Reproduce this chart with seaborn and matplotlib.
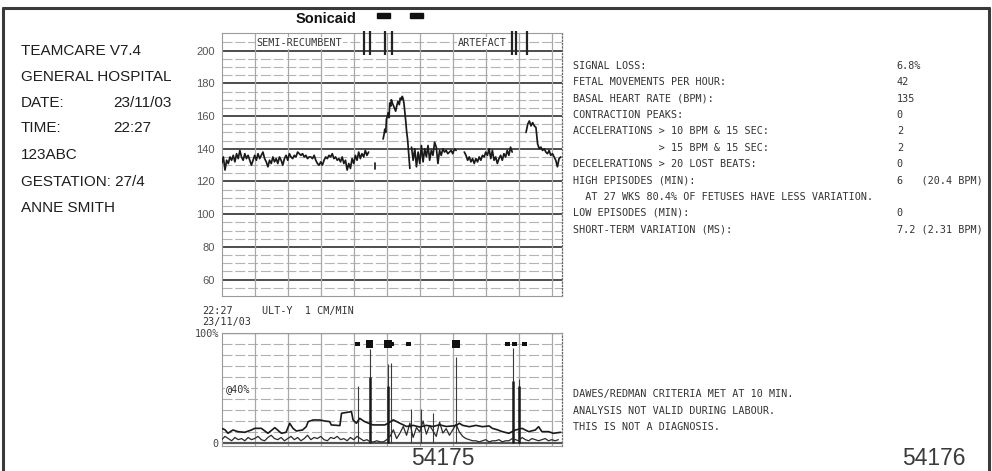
import numpy as np
import pandas as pd
import matplotlib
matplotlib.use("Agg")
import matplotlib.pyplot as plt
import seaborn as sns
from matplotlib.lines import Line2D
from matplotlib.patches import Rectangle

sns.set_theme(style="white")
plt.rcParams['font.family'] = ['DejaVu Sans']

# ---------------- data ----------------
# fetal heart rate (bpm), time in minutes, segments separated by signal loss
hr1_start, hr1_step = 0.0, 0.05
hr1_bpm = [131, 135, 127, 133, 131, 135, 133, 136, 132, 137,
           134, 139, 135, 133, 137, 134, 136, 133, 130, 133,
           136, 133, 137, 134, 136, 138, 134, 132, 129, 133,
           131, 135, 132, 134, 131, 135, 133, 130, 134, 136,
           133, 137, 135, 134, 136, 135, 138, 137, 136, 137,
           135, 136, 134, 135, 135, 134, 136, 133, 131, 130,
           132, 130, 133, 135, 134, 136, 135, 137, 134, 135,
           133, 134, 132, 135, 131, 133, 127, 131, 128, 134,
           131, 136, 133, 138, 134, 137, 135, 139, 136, 138]
hr_tick_t = [4.64, 4.64]
hr_tick_bpm = [127.5, 131.5]
hr2_t = [4.89, 4.92, 4.94, 4.97, 4.99, 5.02, 5.04, 5.07, 5.09, 5.12,
         5.14, 5.17, 5.19, 5.23, 5.27, 5.30, 5.34, 5.38, 5.41, 5.44,
         5.47, 5.49, 5.52, 5.55, 5.58, 5.60, 5.63, 5.65, 5.68, 5.70]
hr2_bpm = [146, 149, 152, 150, 158, 160, 162, 159, 168, 166,
           170, 168, 167, 165, 163, 166, 169, 167, 171, 170,
           172, 171, 168, 162, 156, 151, 146, 141, 133, 128]
hr3_start, hr3_step = 5.75, 0.05
hr3_bpm = [141, 133, 140, 129, 138, 131, 142, 132, 140, 135,
           142, 133, 139, 136, 144, 141, 131, 139, 136, 140,
           138, 139, 137, 138, 139, 137, 140, 139]
hr4_start, hr4_step = 7.35, 0.05
hr4_bpm = [138, 136, 133, 135, 132, 134, 131, 134, 132, 135,
           133, 136, 135, 138, 136, 140, 134, 139, 133, 135,
           131, 134, 136, 133, 137, 135, 139, 136, 141, 138]
hr5_start, hr5_step = 9.22, 0.05
hr5_bpm = [150, 155, 157, 154, 156, 154, 153, 143, 140, 141,
           139, 140, 138, 137, 139, 136, 137, 135, 133, 129,
           134, 135]

# event marks on the heart-rate strip
event_t = [4.31, 4.48, 4.96, 5.16, 8.80, 8.93, 9.26]

# contraction (toco) trace, %
toco_t = [0.00, 0.10, 0.19, 0.34, 0.49, 0.70, 0.90, 1.00, 1.20, 1.40,
          1.61, 1.81, 1.95, 2.06, 2.16, 2.26, 2.45, 2.56, 2.62, 2.77,
          2.97, 3.12, 3.27, 3.32, 3.58, 3.63, 3.93, 3.98, 4.08, 4.18,
          4.33, 4.58, 4.94, 5.04, 5.20, 5.40, 5.60, 5.80, 6.00, 6.20,
          6.40, 6.60, 6.80, 7.00, 7.11, 7.20, 7.30, 7.50, 7.70, 7.90,
          8.10, 8.20, 8.35, 8.50, 8.70, 8.90, 9.10, 9.30, 9.50, 9.60,
          9.70, 9.90, 10.05, 10.27]
toco_pct = [13.3, 12.0, 8.8, 11.8, 10.3, 9.7, 11.8, 13.3, 13.3, 8.8,
            13.9, 8.8, 9.7, 17.9, 13.3, 10.9, 11.8, 14.8, 19.4, 20.9,
            20.9, 20.0, 19.4, 16.4, 15.8, 27.0, 28.5, 20.9, 17.9, 22.4,
            19.4, 16.4, 16.4, 17.9, 21.0, 17.9, 15.0, 16.0, 14.5, 16.0,
            15.0, 16.5, 15.0, 15.5, 16.0, 17.9, 16.0, 14.8, 16.0, 14.8,
            15.5, 13.3, 12.0, 10.3, 8.8, 11.8, 13.3, 10.3, 11.8, 14.8,
            10.3, 10.3, 8.8, 9.7]

# fetal movement / activity trace, %
act_start, act_step = 0.0, 0.1
act_pct = [3, 6, 4, 2, 5, 3, 4, 2, 5, 3,
           4, 6, 3, 2, 5, 7, 4, 3, 5, 2,
           4, 6, 3, 5, 2, 4, 7, 3, 5, 4,
           6, 3, 2, 5, 4, 6, 3, 4, 2, 5,
           3, 6, 4, 2, 3,
           1, 1, 2, 1, 1, 3,
           6, 12, 4, 9, 15, 7, 18, 5, 14, 10, 20, 8, 16, 11, 6, 19, 9, 13, 7, 12, 17,
           10, 6, 4, 3, 2,
           2, 1, 2, 3, 1, 2, 2, 3, 1, 2,
           2, 4, 3, 2, 5, 3, 2, 4, 3, 2,
           3, 4, 2, 3, 2, 3]

# activity spikes
spike_t = [4.12, 4.48, 5.04, 5.14, 5.74, 6.05, 6.40, 7.11, 8.81, 9.01]
spike_top = [52, 85, 72, 73, 31, 31, 27, 78, 86, 58]
thick_t = [4.48, 5.04, 8.81, 9.01]
thick_top = [60, 52, 56, 52]

# movement markers
move_t = [4.11, 4.48, 5.03, 5.15, 5.67, 7.09, 8.67, 8.88, 9.18]
move_big = [0, 1, 1, 0, 0, 1, 0, 0, 0]

hr_ticks = [60, 80, 100, 120, 140, 160, 180, 200]

info_left = ["TEAMCARE V7.4", "GENERAL HOSPITAL", "DATE:", "TIME:",
             "123ABC", "GESTATION: 27/4", "ANNE SMITH"]
info_left_vals = ["", "", "23/11/03", "22:27", "", "", ""]

stat_labels = ["SIGNAL LOSS:", "FETAL MOVEMENTS PER HOUR:", "BASAL HEART RATE (BPM):",
               "CONTRACTION PEAKS:", "ACCELERATIONS > 10 BPM & 15 SEC:",
               "              > 15 BPM & 15 SEC:", "DECELERATIONS > 20 LOST BEATS:",
               "HIGH EPISODES (MIN):", "  AT 27 WKS 80.4% OF FETUSES HAVE LESS VARIATION.",
               "LOW EPISODES (MIN):", "SHORT-TERM VARIATION (MS):"]
stat_values = ["6.8%", "42", "135", "0", "2", "2", "0", "6   (20.4 BPM)", "", "0",
               "7.2 (2.31 BPM)"]
notes = ["DAWES/REDMAN CRITERIA MET AT 10 MIN.", "ANALYSIS NOT VALID DURING LABOUR.",
         "THIS IS NOT A DIAGNOSIS."]

# ---------------- build tables ----------------
def seg_frame(t, v, s):
    return pd.DataFrame({"t": t, "bpm": v, "seg": s})

def reg_t(start, step, n):
    return [round(start + i * step, 3) for i in range(n)]

hr = pd.concat([
    seg_frame(reg_t(hr1_start, hr1_step, len(hr1_bpm)), hr1_bpm, 1),
    seg_frame(hr_tick_t, hr_tick_bpm, 2),
    seg_frame(hr2_t, hr2_bpm, 3),
    seg_frame(reg_t(hr3_start, hr3_step, len(hr3_bpm)), hr3_bpm, 4),
    seg_frame(reg_t(hr4_start, hr4_step, len(hr4_bpm)), hr4_bpm, 5),
    seg_frame(reg_t(hr5_start, hr5_step, len(hr5_bpm)), hr5_bpm, 6),
], ignore_index=True)
toco = pd.DataFrame({"t": toco_t, "pct": toco_pct})
act = pd.DataFrame({"t": reg_t(act_start, act_step, len(act_pct)), "pct": act_pct})

# ---------------- figure ----------------
W, H = 992, 471
fig = plt.figure(figsize=(W / 100, H / 100), dpi=100)
fig.patch.set_facecolor("white")

def fx(px):
    return px / W

def fy(py):
    return 1 - py / H

XL, XR = 221.7, 561.7
ax1 = fig.add_axes([fx(XL), fy(296), fx(XR) - fx(XL), fy(33.3) - fy(296)])
ax2 = fig.add_axes([fx(XL), fy(445.5), fx(XR) - fx(XL), fy(333) - fy(445.5)])

XMAX = 10.3
mono = "DejaVu Sans Mono"
tc = "#333333"

# --- heart-rate strip grid ---
ax1.set_xlim(0, XMAX)
ax1.set_ylim(50, 210.6)
for v in range(55, 210, 5):
    if v % 20 == 0:
        ax1.axhline(v, color="#4d4d4d", lw=1.4, zorder=1)
    else:
        ax1.axhline(v, color="#b4b4b4", lw=0.8, ls=(0, (9, 2.5)), zorder=1)
for m in range(1, 11):
    ax1.axvline(m, color="#a8a8a8", lw=0.9, zorder=1)

sns.lineplot(data=hr, x="t", y="bpm", units="seg", estimator=None, sort=False,
             color="#1a1a1a", lw=1.25, ax=ax1, legend=False, zorder=3)

ax1.vlines(event_t, 197.5, 212, color="#222222", lw=1.6, zorder=4, clip_on=False)
ax1.text(1.05, 204.6, "SEMI-RECUMBENT", family=mono, fontsize=7.3, color=tc,
         va="center", ha="left", zorder=5,
         bbox=dict(facecolor="white", edgecolor="none", pad=0.6))
ax1.text(7.16, 204.6, "ARTEFACT", family=mono, fontsize=7.3, color=tc,
         va="center", ha="left", zorder=5,
         bbox=dict(facecolor="white", edgecolor="none", pad=0.6))

ax1.set_yticks(hr_ticks)
ax1.set_yticklabels([str(v) for v in hr_ticks], family="Liberation Sans",
                    fontsize=8, color="#555555")
ax1.set_xticks([])
ax1.tick_params(axis="y", length=0, pad=5)
ax1.set_xlabel("")
ax1.set_ylabel("")
for side in ["top", "bottom", "left"]:
    ax1.spines[side].set_color("#9a9a9a")
    ax1.spines[side].set_linewidth(0.8)
ax1.spines["right"].set_color("#666666")
ax1.spines["right"].set_linestyle(":")
ax1.spines["right"].set_linewidth(0.9)

# --- contraction strip ---
ax2.set_xlim(0, XMAX)
ax2.set_ylim(-2.3, 100)
for v in range(10, 100, 10):
    ax2.axhline(v, color="#b0b0b0", lw=0.8, ls=(0, (9, 2.5)), zorder=1)
ax2.axhline(100, color="#444444", lw=1.6, zorder=2)
ax2.axhline(0, color="#555555", lw=1.6, zorder=2)
for m in range(1, 11):
    ax2.axvline(m, color="#a8a8a8", lw=0.9, zorder=1)

ax2.vlines(spike_t, 0, spike_top, color="#3a3a3a", lw=0.8, zorder=3)
ax2.vlines(thick_t, 0, thick_top, color="#1a1a1a", lw=1.8, zorder=3)
sns.lineplot(data=act, x="t", y="pct", color="#2a2a2a", lw=0.9, ax=ax2,
             legend=False, zorder=3)
sns.lineplot(data=toco, x="t", y="pct", color="#1a1a1a", lw=1.2, ax=ax2,
             legend=False, zorder=4)
sizes = [30 if b else 12 for b in move_big]
ax2.scatter(move_t, [90] * len(move_t), s=sizes, marker="s", color="#111111",
            zorder=5, linewidths=0)

ax2.text(0.12, 49, "@40%", family=mono, fontsize=7.3, color=tc, va="center",
         ha="left", zorder=5, bbox=dict(facecolor="white", edgecolor="none", pad=0.5))
ax2.set_yticks([0, 100])
ax2.set_yticklabels(["0", "100%"], family=mono, fontsize=7.3, color="#444444")
ax2.tick_params(axis="y", length=0, pad=2)
ax2.set_xticks([])
ax2.set_xlabel("")
ax2.set_ylabel("")
for side in ["top", "bottom", "left"]:
    ax2.spines[side].set_color("#9a9a9a")
    ax2.spines[side].set_linewidth(0.8)
ax2.spines["right"].set_color("#666666")
ax2.spines["right"].set_linestyle(":")
ax2.spines["right"].set_linewidth(0.9)

# --- header ---
fig.text(fx(326), fy(19.3), "Sonicaid", family="Liberation Sans", weight="bold",
         fontsize=10.5, ha="center", va="center", color="#111111")
for x0 in (376.7, 410.0):
    fig.patches.append(Rectangle((fx(x0), fy(17.5)), fx(13), fy(13) - fy(17.5),
                                 transform=fig.transFigure, color="#111111"))

# --- frame ---
fig.add_artist(Line2D([fx(3.3), fx(989)], [fy(8.3), fy(8.3)], color="#3a3a3a", lw=2.2))
fig.add_artist(Line2D([fx(3.3), fx(3.3)], [fy(8.3), fy(471)], color="#3a3a3a", lw=2.2))
fig.add_artist(Line2D([fx(989), fx(989)], [fy(8.3), fy(471)], color="#3a3a3a", lw=2.2))

# --- left info ---
left_fam = "Liberation Sans"
row_y = [51, 76.7, 102.7, 127.7, 155.3, 181.7, 208.3]
for txt, val, y in zip(info_left, info_left_vals, row_y):
    fig.text(fx(20.7), fy(y), txt, family=left_fam, fontsize=11, color="#1e1e1e",
             ha="left", va="center")
    if val:
        fig.text(fx(113.3), fy(y), val, family=left_fam, fontsize=11,
                 color="#1e1e1e", ha="left", va="center")

# --- strip header text ---
fig.text(fx(202), fy(311), "22:27", family=mono, fontsize=7.3, color=tc, va="center")
fig.text(fx(262), fy(311), "ULT-Y  1 CM/MIN", family=mono, fontsize=7.3, color=tc,
         va="center")
fig.text(fx(202), fy(322.5), "23/11/03", family=mono, fontsize=7.3, color=tc,
         va="center")

# --- statistics ---
for i, (lab, val) in enumerate(zip(stat_labels, stat_values)):
    y = 66 + i * 16.33
    fig.text(fx(573), fy(y), lab, family=mono, fontsize=7.3, color=tc, va="center")
    if val:
        fig.text(fx(896.7), fy(y), val, family=mono, fontsize=7.3, color=tc,
                 va="center")
for i, n in enumerate(notes):
    fig.text(fx(573), fy(394.3 + i * 16.2), n, family=mono, fontsize=7.3, color=tc,
             va="center")

# --- page numbers ---
fig.text(fx(442.5), fy(458.5), "54175", family="Liberation Sans", fontsize=16.5,
         color="#3a3a3a", ha="center", va="center")
fig.text(fx(934), fy(458.5), "54176", family="Liberation Sans", fontsize=16.5,
         color="#3a3a3a", ha="center", va="center")

fig.savefig("out.png", dpi=100, facecolor="white")
